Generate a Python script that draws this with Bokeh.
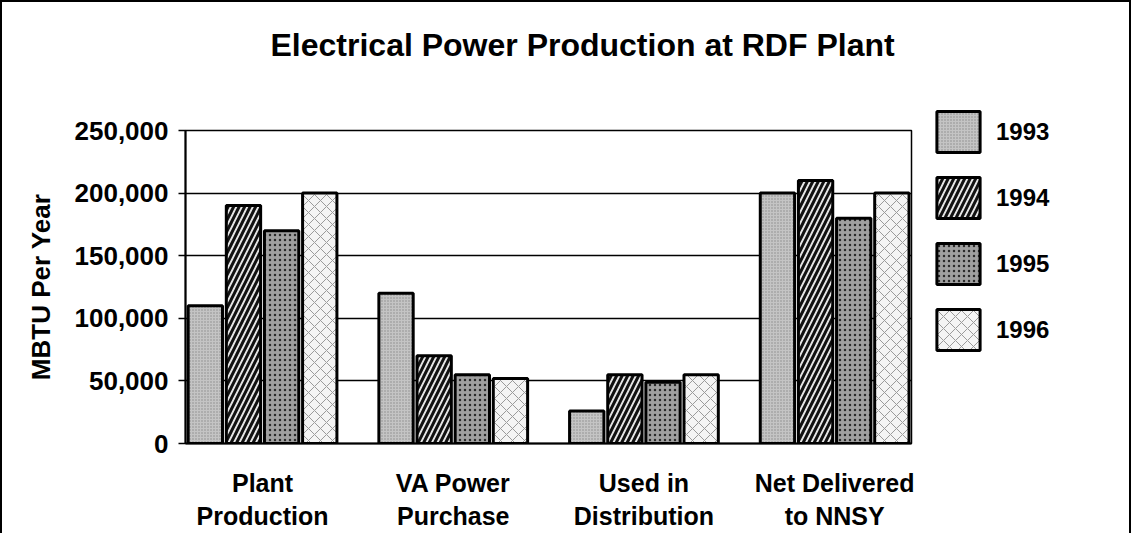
from bokeh.plotting import figure
from bokeh.models import (Range1d, FixedTicker, NumeralTickFormatter, Legend,
                          LegendItem, ColumnDataSource, Title)
from bokeh.transform import dodge
from bokeh.embed import file_html
from bokeh.resources import INLINE

# ---- data ----
categories = ["Plant\nProduction", "VA Power\nPurchase",
              "Used in\nDistribution", "Net Delivered\nto NNSY"]
years = ["1993", "1994", "1995", "1996"]
v1993 = [110000, 120000, 26000, 200000]
v1994 = [190000, 70000, 55000, 210000]
v1995 = [170000, 55000, 49000, 180000]
v1996 = [200000, 52000, 55000, 200000]
y_ticks = [0, 50000, 100000, 150000, 200000, 250000]

positions = list(range(len(categories)))
source = ColumnDataSource(data=dict(x=positions, y1993=v1993, y1994=v1994,
                                    y1995=v1995, y1996=v1996))

FONT = "Liberation Sans"

p = figure(frame_width=726, frame_height=313,
           output_backend="svg", toolbar_location=None,
           x_range=Range1d(-0.404, 3.403), y_range=Range1d(0, 250000),
           min_border_left=183, min_border_right=220, min_border_top=128,
           min_border_bottom=82)

p.styles = {"border-top": "2px solid black", "border-left": "2px solid black",
            "border-right": "2px solid black", "max-width": "1131px",
            "max-height": "537px", "overflow": "hidden"}

p.title.text = "Electrical Power Production at RDF Plant"
p.title.text_font = FONT
p.title.text_font_size = "32px"
p.title.text_font_style = "bold"
p.title.text_color = "black"
p.title.align = "left"
p.title.offset = 85
p.title.standoff = 10

# invisible spacer between title and plot area
p.add_layout(Title(text=" ", text_font_size="1px", standoff=60), "above")

p.outline_line_color = "black"
p.outline_line_width = 1.5

styles = [
    dict(fill_color="#c4c4c4", hatch_pattern="dot", hatch_color="#8a8a8a",
         hatch_scale=3, hatch_weight=1),
    dict(fill_color="#e6e6e6", hatch_pattern="right_diagonal_line",
         hatch_color="#111111", hatch_scale=11, hatch_weight=3),
    dict(fill_color="#a0a0a0", hatch_pattern="dot", hatch_color="#2a2a2a",
         hatch_scale=5, hatch_weight=2),
    dict(fill_color="#f4f4f4", hatch_pattern="diagonal_cross",
         hatch_color="#9a9a9a", hatch_scale=12, hatch_weight=1),
]
offsets = [-0.3, -0.1, 0.1, 0.3]
renderers = []
for yr, off, st in zip(years, offsets, styles):
    r = p.vbar(x=dodge("x", off, range=p.x_range), top="y" + yr, width=0.18,
               source=source, line_color="black", line_width=3, **st)
    renderers.append(r)

# axes
p.yaxis.ticker = FixedTicker(ticks=y_ticks)
p.yaxis.formatter = NumeralTickFormatter(format="0,0")
p.yaxis.axis_label = "MBTU Per Year"
p.yaxis.axis_label_text_font = FONT
p.yaxis.axis_label_text_font_size = "26px"
p.yaxis.axis_label_text_font_style = "bold"
p.yaxis.axis_label_text_color = "black"
p.yaxis.axis_label_standoff = 16
p.yaxis.major_label_text_font = FONT
p.yaxis.major_label_text_font_size = "26px"
p.yaxis.major_label_text_font_style = "bold"
p.yaxis.major_label_text_color = "black"
p.yaxis.major_label_standoff = 10
p.yaxis.major_tick_out = 7
p.yaxis.major_tick_in = 0
p.yaxis.minor_tick_line_color = None
p.yaxis.axis_line_width = 2
p.yaxis.major_tick_line_width = 1.5

p.xaxis.ticker = FixedTicker(ticks=positions)
p.xaxis.major_label_overrides = {i: c for i, c in zip(positions, categories)}
p.xaxis.major_label_text_font = FONT
p.xaxis.major_label_text_font_size = "25px"
p.xaxis.major_label_text_font_style = "bold"
p.xaxis.major_label_text_color = "black"
p.xaxis.major_label_standoff = 19
p.xaxis.major_tick_line_color = None
p.xaxis.minor_tick_line_color = None
p.xaxis.axis_line_width = 2

p.xgrid.visible = False
p.ygrid.grid_line_color = "black"
p.ygrid.grid_line_width = 1.5

legend = Legend(items=[LegendItem(label=y, renderers=[r])
                       for y, r in zip(years, renderers)],
                location=(20, 88), glyph_width=54, glyph_height=51, spacing=15,
                padding=0, margin=0, border_line_color=None,
                background_fill_alpha=0, label_text_font=FONT,
                label_text_font_size="24px", label_text_font_style="bold",
                label_text_color="black", label_standoff=11)
p.add_layout(legend, "right")

open("out.html", "w").write(file_html(p, INLINE))
